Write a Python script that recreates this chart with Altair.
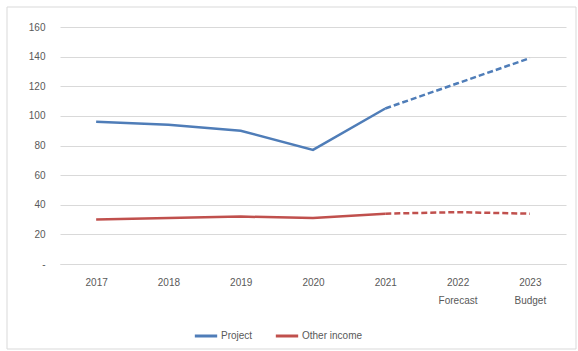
import altair as alt
import pandas as pd

years = ["2017", "2018", "2019", "2020", "2021", "2022", "2023"]
sublabels = ["", "", "", "", "", "Forecast", "Budget"]
project = [96, 94, 90, 77, 105, 122, 139]
other_income = [30, 31, 32, 31, 34, 35, 34]
series_names = ["Project", "Other income"]
colors = ["#4F7DB8", "#C0504D"]
actual_years = ["2017", "2018", "2019", "2020", "2021"]
projected_years = ["2021", "2022", "2023"]

rows = []
for name, vals in zip(series_names, [project, other_income]):
    for y, v in zip(years, vals):
        if y in actual_years:
            rows.append({"year": y, "value": v, "series": name, "seg": "actual"})
        if y in projected_years:
            rows.append({"year": y, "value": v, "series": name, "seg": "projected"})
df = pd.DataFrame(rows)

label_map = "{" + ",".join(
    f"'{y}': {[y, s] if s else [y]}" for y, s in zip(years, sublabels)
) + "}"

x_enc = alt.X(
    "year:N",
    sort=years,
    scale=alt.Scale(type="point", padding=0.5),
    axis=alt.Axis(
        title=None,
        labelAngle=0,
        labelExpr=f"{label_map}[datum.value]",
        labelFont="Liberation Sans",
        labelFontSize=10,
        labelColor="#595959",
        labelPadding=13,
        labelLineHeight=18,
        domainColor="#D9D9D9",
        domainWidth=1,
        ticks=False,
        grid=False,
    ),
)
y_enc = alt.Y(
    "value:Q",
    scale=alt.Scale(domain=[0, 160], nice=False),
    axis=alt.Axis(
        title=None,
        values=[0, 20, 40, 60, 80, 100, 120, 140, 160],
        labelExpr="datum.value == 0 ? '-' : datum.label",
        labelFont="Liberation Sans",
        labelFontSize=10,
        labelColor="#595959",
        labelPadding=15,
        domain=False,
        ticks=False,
        gridColor="#D9D9D9",
        gridWidth=1,
    ),
)
color_enc = alt.Color(
    "series:N",
    sort=series_names,
    scale=alt.Scale(domain=series_names, range=colors),
    legend=alt.Legend(
        title=None,
        orient="none",
        direction="horizontal",
        legendX=133,
        legendY=296,
        symbolType="stroke",
        symbolSize=500,
        symbolStrokeWidth=3,
        labelFont="Liberation Sans",
        labelFontSize=10,
        labelColor="#595959",
        columnPadding=16,
        labelOffset=2,
    ),
)

base = alt.Chart(df)
solid = base.transform_filter("datum.seg == 'actual'").mark_line(strokeWidth=2.5).encode(
    x=x_enc, y=y_enc, color=color_enc, detail="series:N"
)
dashed = base.transform_filter("datum.seg == 'projected'").mark_line(
    strokeWidth=2.5, strokeDash=[6, 3]
).encode(x=x_enc, y=y_enc, color=alt.Color("series:N", legend=None), detail="series:N")

border = alt.Chart(pd.DataFrame({"a": [0]})).mark_rect(
    fill=None, stroke="#D9D9D9", strokeWidth=1
).encode(
    x=alt.value(-53), x2=alt.value(516), y=alt.value(-20), y2=alt.value(322)
)

chart = alt.layer(border, solid, dashed).properties(
    width=506,
    height=237,
    autosize=alt.AutoSizeParams(type="none"),
    padding={"left": 60, "top": 27, "right": 12, "bottom": 87},
    background="white",
).configure_view(stroke=None)

chart.save("out.html", embed_options={"renderer": "svg", "actions": False})
